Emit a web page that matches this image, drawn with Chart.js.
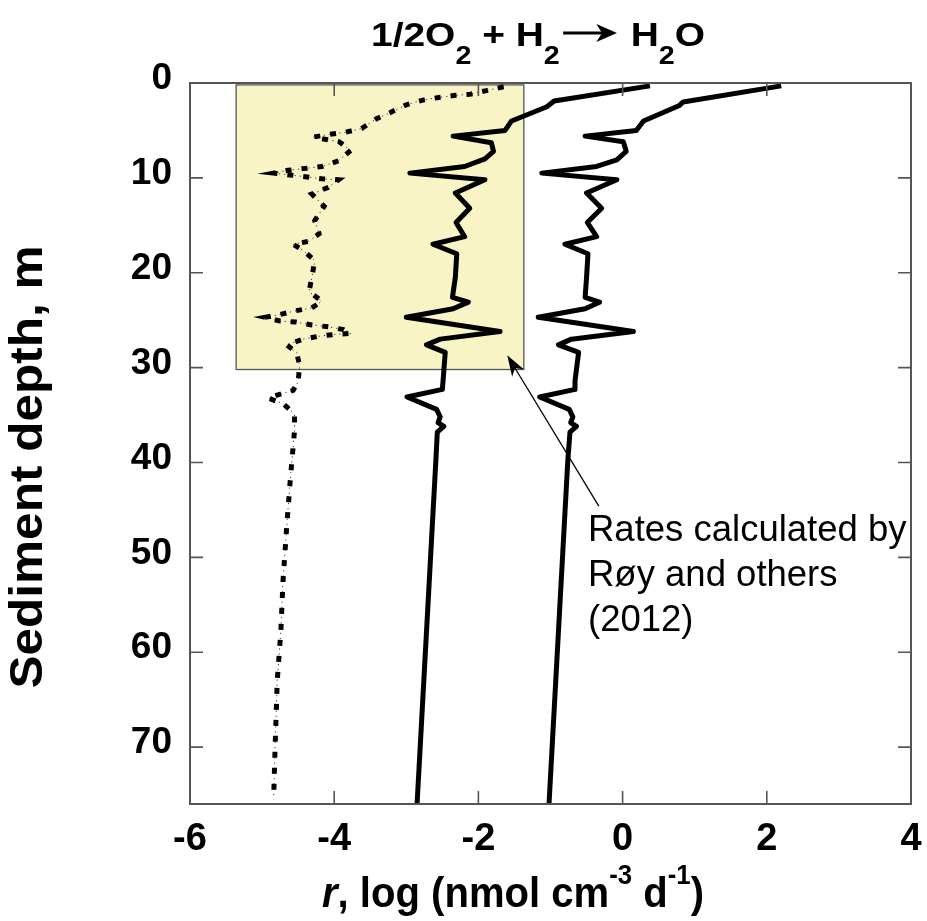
<!DOCTYPE html>
<html><head><meta charset="utf-8">
<script src="https://cdn.jsdelivr.net/npm/chart.js@4/dist/chart.umd.min.js"></script>
<style>html,body{margin:0;padding:0;background:#fff}canvas{display:block}</style>
</head><body>
<canvas id="c" width="927" height="921"></canvas>
<script>
// ---------- data ----------
const xTickValues = [-6, -4, -2, 0, 2, 4];
const yTickValues = [0, 10, 20, 30, 40, 50, 60, 70];

// upper solid curve
const depthHigh = [0.3, 2.0, 2.4, 4.0, 5.0, 5.6, 6.2, 7.2, 8.1, 8.8, 9.5, 10.2, 11.6, 13.2, 14.7, 16.2, 17.0, 18.0, 20.5, 22.6, 23.1, 23.8, 24.7, 26.2, 27.0, 27.6, 28.4, 31.4, 32.3, 33.1, 34.4, 35.2, 35.8, 36.2, 36.8, 39.8, 75.9];
const rateHigh  = [2.2, 0.84, 0.78, 0.29, 0.19, -0.52, 0.01, 0.05, -0.08, -0.36, -1.12, -0.08, -0.50, -0.29, -0.49, -0.36, -0.80, -0.48, -0.50, -0.52, -0.32, -0.52, -1.17, 0.15, -0.71, -0.89, -0.61, -0.66, -0.66, -1.15, -0.74, -0.69, -0.72, -0.64, -0.73, -0.76, -1.02];

// middle solid curve
const depthMid = [0.3, 1.9, 2.5, 4.0, 5.0, 5.6, 6.3, 7.2, 8.0, 8.8, 9.5, 10.2, 11.6, 13.2, 14.7, 16.2, 17.0, 18.0, 20.5, 22.6, 23.1, 23.8, 24.7, 26.2, 27.0, 27.6, 28.4, 31.4, 32.3, 33.1, 34.4, 35.2, 35.8, 36.2, 36.8, 39.8, 75.9];
const rateMid  = [0.38, -0.95, -1.05, -1.54, -1.63, -2.35, -1.82, -1.79, -1.91, -2.19, -2.95, -1.91, -2.32, -2.12, -2.31, -2.19, -2.63, -2.30, -2.32, -2.36, -2.14, -2.35, -3.00, -1.70, -2.53, -2.72, -2.46, -2.49, -2.50, -2.99, -2.58, -2.53, -2.56, -2.48, -2.57, -2.59, -2.85];

// lower dotted curve
const depthLow = [0.4, 0.8, 1.2, 1.3, 1.5, 1.8, 2.3, 3.1, 3.8, 4.8, 5.2, 5.4, 5.7, 5.9, 6.2, 7.1, 8.2, 8.8, 9.0, 9.2, 9.5, 9.7, 9.9, 10.1, 10.2, 11.0, 11.7, 13.0, 14.5, 15.9, 16.7, 17.0, 17.6, 18.7, 20.5, 22.0, 23.0, 23.7, 24.0, 24.4, 24.7, 25.1, 25.2, 25.5, 25.7, 26.0, 26.4, 26.5, 26.7, 27.0, 27.6, 28.4, 29.8, 31.5, 32.4, 33.2, 33.8, 34.9, 36.6, 38.4, 41.9, 46.9, 52.5, 57.8, 63.0, 70.1, 75.5];
const rateLow  = [-1.65, -1.89, -2.12, -2.32, -2.53, -2.77, -3.00, -3.22, -3.42, -3.62, -3.85, -4.06, -4.29, -4.15, -3.93, -3.77, -3.94, -4.17, -4.40, -4.64, -4.84, -4.61, -4.38, -4.17, -3.94, -4.08, -4.31, -4.14, -4.27, -4.21, -4.36, -4.57, -4.44, -4.27, -4.31, -4.35, -4.17, -4.31, -4.53, -4.75, -4.96, -4.75, -4.53, -4.31, -4.08, -3.87, -3.77, -3.99, -4.22, -4.43, -4.66, -4.52, -4.48, -4.50, -4.57, -4.92, -4.71, -4.55, -4.55, -4.57, -4.61, -4.66, -4.71, -4.74, -4.79, -4.82, -4.84];

// shaded region (Røy et al. 2012)
const shadedRate = [-5.36, -1.37];
const shadedDepth = [0.2, 30.2];

// annotation
const noteLines = ['Rates calculated by', 'Røy and others', '(2012)'];
const noteAnchor = { rate: -0.48, depth: 48.3 };
const arrowFrom = { rate: -0.33, depth: 44.6 };
const arrowTo = { rate: -1.60, depth: 28.7 };

// ---------- helpers ----------
const FONT = '"Liberation Sans", Arial, Helvetica, sans-serif';
const pts = (d, r) => d.map((v, i) => ({ x: r[i], y: v }));

function drawRich(ctx, pieces, x0, target) {
  let total = 0;
  for (const p of pieces) {
    if (p.arrow) { p.w = p.arrow; }
    else { ctx.font = p.f; p.w = ctx.measureText(p.t).width; }
    total += p.w;
  }
  const sx = target / total;
  ctx.save();
  ctx.translate(x0, 0);
  ctx.scale(sx, 1);
  let cx = 0;
  ctx.fillStyle = '#000';
  ctx.strokeStyle = '#000';
  ctx.textAlign = 'left';
  ctx.textBaseline = 'alphabetic';
  for (const p of pieces) {
    if (p.arrow) {
      const a = cx + 3, b = cx + p.w - 12;
      ctx.lineWidth = 3.2;
      ctx.beginPath(); ctx.moveTo(a, p.y); ctx.lineTo(b - 10, p.y); ctx.stroke();
      ctx.beginPath(); ctx.moveTo(b, p.y); ctx.lineTo(b - 18, p.y - 9); ctx.lineTo(b - 13, p.y); ctx.lineTo(b - 18, p.y + 9); ctx.closePath(); ctx.fill();
    } else {
      ctx.font = p.f;
      ctx.fillText(p.t, cx, p.y);
    }
    cx += p.w;
  }
  ctx.restore();
}

const deco = {
  id: 'deco',
  beforeDatasetsDraw(chart) {
    const { ctx, scales: { x, y } } = chart;
    const l = x.getPixelForValue(shadedRate[0]), r = x.getPixelForValue(shadedRate[1]);
    const t = y.getPixelForValue(shadedDepth[0]), b = y.getPixelForValue(shadedDepth[1]);
    ctx.save();
    ctx.fillStyle = '#F8F4C6';
    ctx.fillRect(l, t, r - l, b - t);
    ctx.strokeStyle = '#555';
    ctx.lineWidth = 1.3;
    ctx.strokeRect(l, t, r - l, b - t);
    ctx.restore();
  },
  afterDraw(chart) {
    const { ctx, chartArea: ca, scales: { x, y } } = chart;
    ctx.save();
    // frame
    ctx.strokeStyle = '#555';
    ctx.lineWidth = 2;
    ctx.strokeRect(ca.left, ca.top, ca.right - ca.left, ca.bottom - ca.top);
    // inward ticks
    ctx.lineWidth = 1.6;
    ctx.beginPath();
    for (const v of xTickValues) {
      const px = x.getPixelForValue(v);
      ctx.moveTo(px, ca.bottom); ctx.lineTo(px, ca.bottom - 13);
      ctx.moveTo(px, ca.top); ctx.lineTo(px, ca.top + 13);
    }
    for (const v of yTickValues) {
      const py = y.getPixelForValue(v);
      ctx.moveTo(ca.left, py); ctx.lineTo(ca.left + 13, py);
      ctx.moveTo(ca.right, py); ctx.lineTo(ca.right - 13, py);
    }
    ctx.stroke();

    // title
    const mainF = 'bold 34px ' + FONT, subF = 'bold 25px ' + FONT;
    drawRich(ctx, [
      { t: '1/2O', f: mainF, y: 46 },
      { t: '2', f: subF, y: 64 },
      { t: ' + H', f: mainF, y: 46 },
      { t: '2', f: subF, y: 64 },
      { arrow: 62, y: 33 },
      { t: 'H', f: mainF, y: 46 },
      { t: '2', f: subF, y: 64 },
      { t: 'O', f: mainF, y: 46 }
    ], 371, 334);

    // x-axis title
    const xf = 'bold 42px ' + FONT, xi = 'italic bold 42px ' + FONT, xs = 'bold 27px ' + FONT;
    drawRich(ctx, [
      { t: 'r', f: xi, y: 907 },
      { t: ', log (nmol cm', f: xf, y: 907 },
      { t: '-3', f: xs, y: 884 },
      { t: ' d', f: xf, y: 907 },
      { t: '-1', f: xs, y: 884 },
      { t: ')', f: xf, y: 907 }
    ], 322, 382);

    // y-axis title
    ctx.save();
    ctx.font = 'bold 46px ' + FONT;
    const yt = 'Sediment depth, m';
    const w = ctx.measureText(yt).width;
    ctx.translate(42, 467);
    ctx.rotate(-Math.PI / 2);
    ctx.scale(443 / w, 1);
    ctx.fillStyle = '#000';
    ctx.textAlign = 'center';
    ctx.textBaseline = 'alphabetic';
    ctx.fillText(yt, 0, 0);
    ctx.restore();

    // annotation arrow
    const ax0 = x.getPixelForValue(arrowFrom.rate), ay0 = y.getPixelForValue(arrowFrom.depth);
    const ax1 = x.getPixelForValue(arrowTo.rate), ay1 = y.getPixelForValue(arrowTo.depth);
    const ang = Math.atan2(ay1 - ay0, ax1 - ax0);
    ctx.strokeStyle = '#000';
    ctx.fillStyle = '#000';
    ctx.lineWidth = 1.3;
    ctx.beginPath();
    ctx.moveTo(ax0, ay0);
    ctx.lineTo(ax1 - 14 * Math.cos(ang), ay1 - 14 * Math.sin(ang));
    ctx.stroke();
    ctx.beginPath();
    ctx.moveTo(ax1, ay1);
    ctx.lineTo(ax1 - 21 * Math.cos(ang) + 7 * Math.sin(ang), ay1 - 21 * Math.sin(ang) - 7 * Math.cos(ang));
    ctx.lineTo(ax1 - 15 * Math.cos(ang), ay1 - 15 * Math.sin(ang));
    ctx.lineTo(ax1 - 21 * Math.cos(ang) - 7 * Math.sin(ang), ay1 - 21 * Math.sin(ang) + 7 * Math.cos(ang));
    ctx.closePath();
    ctx.fill();

    // annotation text
    ctx.font = '36.5px ' + FONT;
    ctx.textAlign = 'left';
    ctx.textBaseline = 'alphabetic';
    const nx = x.getPixelForValue(noteAnchor.rate), ny = y.getPixelForValue(noteAnchor.depth);
    noteLines.forEach((s, i) => ctx.fillText(s, nx, ny + i * 45));
    ctx.restore();
  }
};

new Chart(document.getElementById('c'), {
  type: 'scatter',
  data: {
    datasets: [
      { data: pts(depthHigh, rateHigh), showLine: true, borderColor: '#000', borderWidth: 5, borderJoinStyle: 'round', pointRadius: 0, tension: 0 },
      { data: pts(depthMid, rateMid), showLine: true, borderColor: '#000', borderWidth: 5, borderJoinStyle: 'round', pointRadius: 0, tension: 0 },
      { data: pts(depthLow, rateLow), showLine: true, borderColor: '#000', borderWidth: 5, borderDash: [6, 10], borderCapStyle: 'butt', pointRadius: 0, tension: 0 },
      { data: pts(depthLow, rateLow), showLine: true, borderColor: '#333', borderWidth: 1, borderDash: [1.2, 4], pointRadius: 0, tension: 0 }
    ]
  },
  options: {
    responsive: false,
    animation: false,
    devicePixelRatio: 1,
    layout: { padding: { top: 83, right: 16, bottom: 0, left: 0 } },
    plugins: { legend: { display: false }, tooltip: { enabled: false }, title: { display: false } },
    scales: {
      x: {
        type: 'linear', position: 'bottom', min: -6, max: 4,
        afterBuildTicks: s => { s.ticks = xTickValues.map(v => ({ value: v })); },
        afterFit: s => { s.height = 117; s.paddingLeft = 0; s.paddingRight = 0; },
        grid: { display: false, drawTicks: false },
        border: { display: false },
        ticks: { color: '#000', padding: 13, maxRotation: 0, autoSkip: false, font: { family: FONT, size: 38, weight: 'bold' } }
      },
      y: {
        type: 'linear', reverse: true, min: 0, max: 76,
        afterBuildTicks: s => { s.ticks = yTickValues.map(v => ({ value: v })); },
        afterFit: s => { s.width = 190; s.paddingTop = 0; s.paddingBottom = 0; },
        grid: { display: false, drawTicks: false },
        border: { display: false },
        ticks: { color: '#000', padding: 18, labelOffset: -4, autoSkip: false, font: { family: FONT, size: 37, weight: 'bold' } }
      }
    }
  },
  plugins: [deco]
});
</script>
</body></html>
